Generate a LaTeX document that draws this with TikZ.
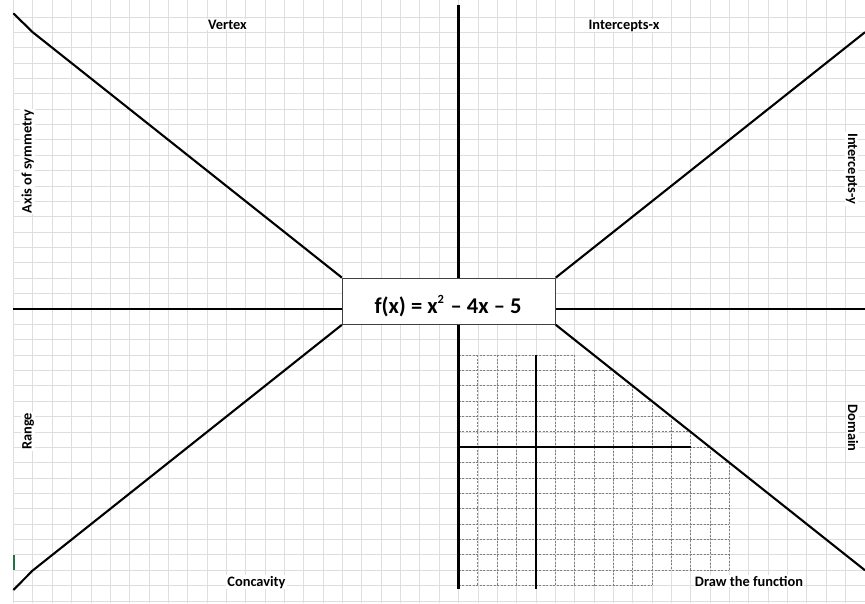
\documentclass[tikz,border=0pt]{standalone}
\usepackage{fontspec}
\setmainfont{Carlito}
\definecolor{xlgreen}{RGB}{33,115,70}
\begin{document}
\begin{tikzpicture}[x=1pt,y=-1pt,
  bg/.style={draw=black!13,line width=0.7pt},
  dgrid/.style={draw=black!50,line width=0.8pt,dash pattern=on 2pt off 1.5pt},
  mainline/.style={draw=black,line width=2.1pt},
  innerline/.style={draw=black,line width=1.6pt},
  lbl/.style={font=\bfseries\fontsize{14.4}{16}\selectfont,fill=white,inner sep=1pt},
  fbox/.style={draw=black!75,line width=1pt,fill=white,inner sep=0pt,minimum width=212.85pt,minimum height=46.15pt},
  ftext/.style={font=\bfseries\fontsize{22.5}{26}\selectfont,inner sep=0pt}
  ]
\useasboundingbox (0,0) rectangle (865,603);
\fill[white] (0,0) rectangle (865,603);
% background sheet grid
\foreach \i in {0,...,44} \draw[bg] ({13.45+19.35*\i},0) -- ({13.45+19.35*\i},603);
\foreach \j in {-22,...,16} \draw[bg] (13.45,{355+15.37*\j}) -- (865,{355+15.37*\j});
% inner dashed grid
\foreach \j/\m in {0/6,1/8,2/9,3/10,4/11,5/12,6/13,7/14,8/14,9/14,10/14,11/14,12/14,13/14,14/14,15/10}
  \draw[dgrid] (458.5,{355+15.37*\j}) -- ({458.5+19.35*\m},{355+15.37*\j});
\foreach \k/\a/\b in {1/0/15,2/0/15,3/0/15,4/0/15,5/0/15,6/0/15,7/1/15,8/1/15,9/2/15,10/3/15,11/4/14,12/5/14,13/6/14,14/7/14}
  \draw[dgrid] ({458.5+19.35*\k},{355+15.37*\a}) -- ({458.5+19.35*\k},{355+15.37*\b});
% central box
\node[fbox] (fx) at (448.83,301.22) {};
\node[ftext,anchor=base] (fxt) at (448,313.5) {f(x) = x\raisebox{10pt}{\fontsize{12.5}{13}\selectfont 2}\hspace{1.5pt} – 4x – 5};
% main axes
\coordinate (vtop) at (458.5,5);
\coordinate (vbot) at (458.5,589);
\coordinate (hl) at (13.45,308.89);
\coordinate (hr) at (865,308.89);
\draw[mainline] (vtop) -- (vtop |- fx.north);
\draw[mainline] (vbot |- fx.south) -- (vbot);
\draw[mainline] (hl) -- (hl -| fx.west);
\draw[mainline] (fx.east |- hr) -- (hr);
% diagonals
\coordinate (ul0) at (13.3,13.3);
\coordinate (ul1) at (32.8,32.3);
\coordinate (ur) at (865,32.2);
\coordinate (ll0) at (13.3,590);
\coordinate (ll1) at (32.8,570.4);
\coordinate (lr) at (865,570.3);
\draw[mainline,line join=round] (ul0) -- (ul1) -- (fx.north west);
\draw[mainline] (fx.north east) -- (ur);
\draw[mainline,line join=round] (fx.south west) -- (ll1) -- (ll0);
\draw[mainline] (fx.south east) -- (lr);
% inner axes
\coordinate (iv0) at (535.9,355);
\coordinate (iv1) at (535.9,589);
\coordinate (ih0) at (458.5,447.22);
\coordinate (ih1) at (690.7,447.22);
\draw[innerline] (iv0) -- (iv1);
\draw[innerline] (ih0) -- (ih1);
% small green mark
\fill[xlgreen] (13,555) rectangle (15,570);
% labels
\node[lbl,anchor=base] (vertex) at (227.5,29) {Vertex};
\node[lbl,anchor=base] (ix) at (624,29) {Intercepts-x};
\node[lbl,anchor=base,rotate=90] (axis) at (31.5,161.5) {Axis of symmetry};
\node[lbl,anchor=base,rotate=-90] (iy) at (848,169) {Intercepts-y};
\node[lbl,anchor=base,rotate=90] (range) at (31.5,431.5) {Range};
\node[lbl,anchor=base,rotate=-90] (domain) at (848,428) {Domain};
\node[lbl,anchor=base] (conc) at (256.5,586) {Concavity};
\node[lbl,anchor=base] (drawf) at (749,586) {Draw the function};
\end{tikzpicture}
\end{document}
